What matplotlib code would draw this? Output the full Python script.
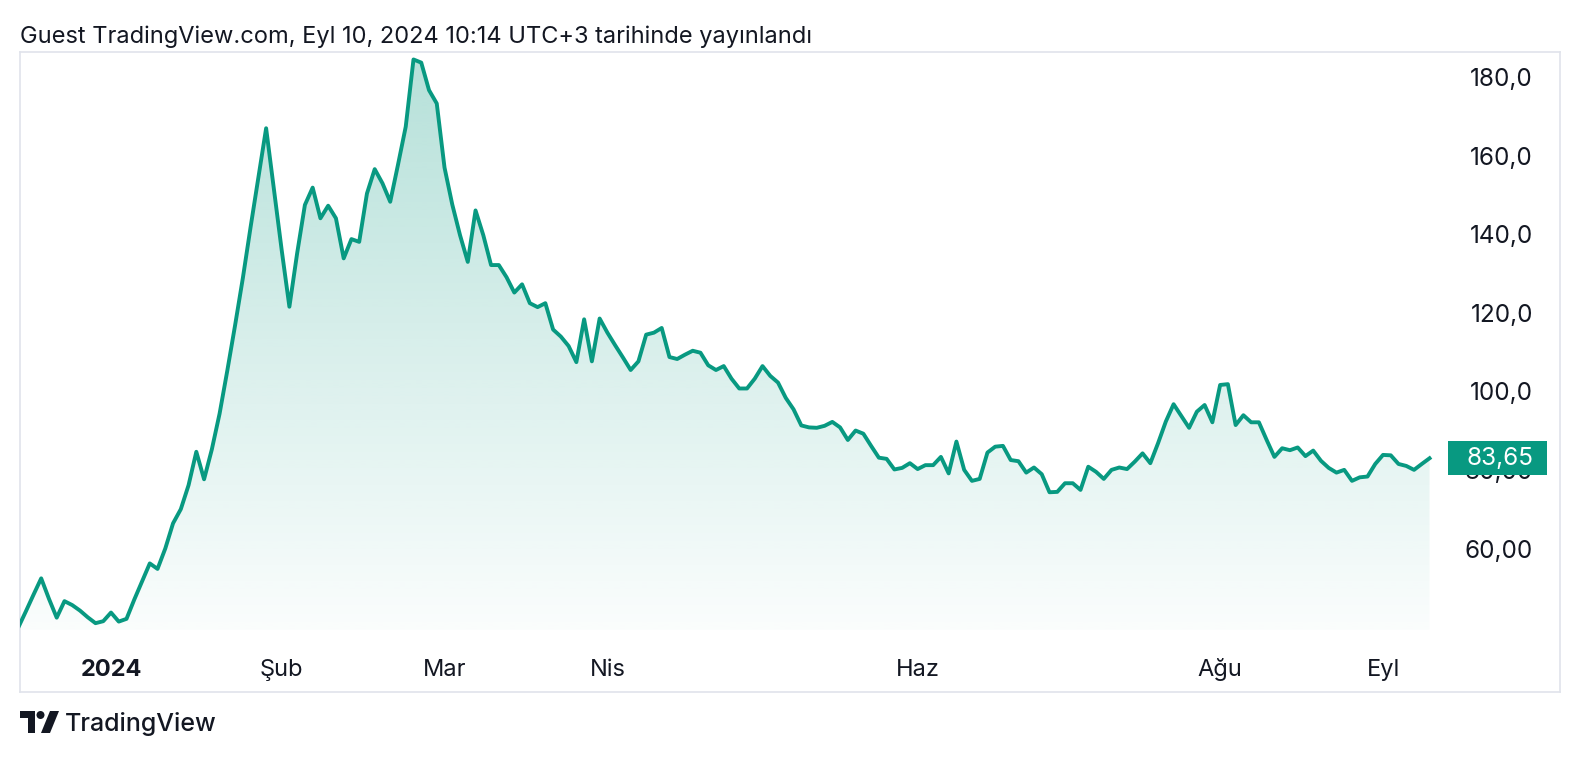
import numpy as np
import matplotlib
matplotlib.use("Agg")
import matplotlib.pyplot as plt
from matplotlib.transforms import blended_transform_factory
from matplotlib.patches import Rectangle, Polygon, Circle

# ---------------- data (daily closes, one per trading bar) ----------------
first_bar = -3
prices = [
    40.4, 44.6, 48.9, 53.1, 47.9, 43.1, 47.3, 46.3, 44.9, 43.2,
    41.7, 42.2, 44.4, 42.1, 42.8, 47.7, 52.3, 56.9, 55.5, 60.7,
    67.1, 70.7, 76.8, 85.3, 78.3, 85.9, 95.0, 106.0, 117.5, 129.5,
    142.5, 155.0, 167.6, 152.2, 136.7, 122.2, 135.8, 148.1, 152.5, 144.7,
    147.9, 144.7, 134.5, 139.4, 138.7, 151.0, 157.2, 153.6, 148.9, 158.3,
    168.0, 185.1, 184.3, 177.3, 173.9, 157.6, 148.2, 140.4, 133.6, 146.7,
    140.4, 132.8, 132.8, 129.7, 125.8, 127.9, 123.1, 122.1, 123.1, 116.4,
    114.6, 112.2, 108.1, 119.0, 108.3, 119.2, 115.6, 112.4, 109.3, 106.1,
    108.3, 115.1, 115.6, 116.8, 109.4, 108.9, 110.0, 111.0, 110.5, 107.3,
    106.1, 107.1, 103.9, 101.4, 101.4, 103.9, 107.1, 104.6, 102.9, 99.0,
    96.1, 92.0, 91.5, 91.4, 91.9, 92.9, 91.5, 88.3, 90.7, 89.9,
    86.8, 83.8, 83.5, 80.8, 81.2, 82.4, 80.9, 81.9, 81.9, 84.0,
    79.8, 87.9, 80.7, 77.9, 78.4, 85.1, 86.6, 86.8, 83.2, 82.9,
    80.0, 81.3, 79.6, 75.0, 75.1, 77.3, 77.3, 75.6, 81.5, 80.2,
    78.4, 80.7, 81.3, 80.9, 82.8, 84.9, 82.4, 87.5, 93.0, 97.4,
    94.4, 91.4, 95.5, 97.2, 92.8, 102.3, 102.5, 92.1, 94.6, 92.8,
    92.8, 88.3, 84.0, 86.2, 85.7, 86.4, 84.2, 85.6, 83.0, 81.2,
    80.0, 80.7, 77.9, 78.8, 79.0, 82.2, 84.5, 84.4, 82.2, 81.7,
    80.7, 82.2, 83.65,
]
month_labels = ["2024", "Şub", "Mar", "Nis", "Haz", "Ağu", "Eyl"]
month_bars = [9, 31, 52, 73, 113, 152, 173]
price_ticks = [60, 80, 100, 120, 140, 160, 180]
price_tick_labels = ["60,00", "80,00", "100,0", "120,0", "140,0", "160,0", "180,0"]
last_price_text = "83,65"
title_text = "Guest TradingView.com, Eyl 10, 2024 10:14 UTC+3 tarihinde yayınlandı"
brand_text = "TradingView"

# ---------------- style ----------------
plt.rcParams["font.family"] = ["Inter", "DejaVu Sans"]
W, H = 1580, 764
green = "#089981"
text_col = "#131722"
border_col = "#e0e3eb"

fig = plt.figure(figsize=(W / 100, H / 100), dpi=100)
fig.patch.set_facecolor("white")

# chart frame: x 20..1560 px, y 52..692 px
ax = fig.add_axes([20 / W, (H - 692) / H, 1540 / W, 640 / H])
ax.set_facecolor("white")

bars = np.arange(first_bar, first_bar + len(prices))
vals = np.array(prices)

x_left, x_right = -2.733, 195.82
y_bottom, y_top = 24.19, 187.0
fill_base = 40.0

# gradient area
poly = ax.fill_between(bars, vals, fill_base, color="none", lw=0)
t = np.linspace(0, 1, 256)[:, None]
grad = np.zeros((256, 1, 4))
grad[..., 0] = 8 / 255
grad[..., 1] = 153 / 255
grad[..., 2] = 129 / 255
grad[..., 3] = 0.02 + 0.28 * t
im = ax.imshow(grad, extent=[bars[0], bars[-1], fill_base, y_top],
               origin="lower", aspect="auto", zorder=1, interpolation="bilinear")
im.set_clip_path(poly.get_paths()[0], transform=ax.transData)

ax.plot(bars, vals, color=green, lw=2.8, solid_joinstyle="round", zorder=3)

ax.set_xlim(x_left, x_right)
ax.set_ylim(y_bottom, y_top)
ax.set_xticks([])
ax.set_yticks([])
for s in ax.spines.values():
    s.set_color(border_col)
    s.set_linewidth(1.2)

# price scale labels
ty = blended_transform_factory(ax.transAxes, ax.transData)
lab_x = (1533 - 20) / 1540
for v, lab in zip(price_ticks, price_tick_labels):
    ax.text(lab_x, v, lab, transform=ty, ha="right", va="center",
            fontsize=17.5, color=text_col, zorder=4)

# last price badge (covers the 80,00 label as in the original)
last = prices[-1]
box = Rectangle(((1448 - 20) / 1540, last - 4.35), 99 / 1540, 8.7,
                transform=ty, facecolor=green, edgecolor="none", zorder=5,
                clip_on=False)
ax.add_patch(box)
ax.text(lab_x, last, last_price_text, transform=ty, ha="right", va="center",
        fontsize=17.5, color="white", zorder=6)

# time scale labels
tx = blended_transform_factory(ax.transData, ax.transAxes)
lab_y = (692 - 676) / 640
for b, lab in zip(month_bars, month_labels):
    ax.text(b, lab_y, lab, transform=tx, ha="center", va="baseline",
            fontsize=17, color=text_col,
            fontweight="bold" if lab == "2024" else "normal")

# title
fig.text(20 / W, 1 - 43.5 / H, title_text, ha="left", va="baseline",
         fontsize=17, color=text_col)

# brand logo + wordmark
def fy(y):
    return H - y

logo1 = Polygon([(20, fy(711)), (35, fy(711)), (35, fy(733)), (28, fy(733)),
                 (28, fy(718)), (20, fy(718))], closed=True,
                facecolor=text_col, edgecolor="none", transform=None)
dot = Circle((40.5, fy(715)), 4, facecolor=text_col, edgecolor="none",
             transform=None)
logo2 = Polygon([(50, fy(711)), (59, fy(711)), (50, fy(733)), (41, fy(733))],
                closed=True, facecolor=text_col, edgecolor="none", transform=None)
for p in (logo1, dot, logo2):
    fig.patches.append(p)
fig.text(65 / W, 1 - 731 / H, brand_text, ha="left", va="baseline",
         fontsize=18, color=text_col, fontweight="medium")

fig.savefig("out.png", dpi=100, facecolor="white")
